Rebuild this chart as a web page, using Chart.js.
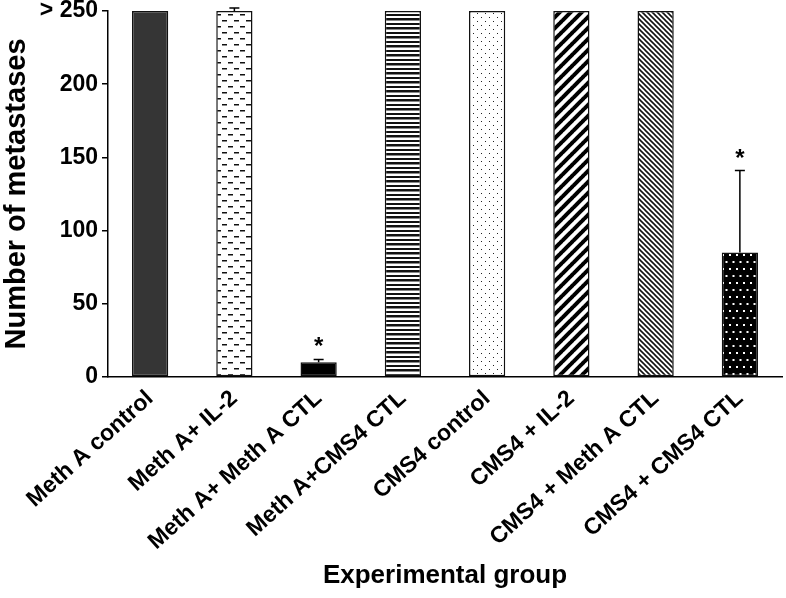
<!DOCTYPE html>
<html><head><meta charset="utf-8">
<script src="https://cdn.jsdelivr.net/npm/chart.js@4.4.1/dist/chart.umd.min.js"></script>
<style>html,body{margin:0;padding:0;background:#fff}#wrap{width:786px;height:598px;position:relative}</style>
</head><body><div id="wrap"><canvas id="c" width="786" height="598"></canvas></div>
<script>
const categories = ['Meth A control','Meth A+ IL-2','Meth A+ Meth A CTL','Meth A+CMS4 CTL','CMS4 control','CMS4 + IL-2','CMS4 + Meth A CTL','CMS4 + CMS4 CTL'];
const yTickValues = [0,50,100,150,200,250];
const yTickLabels = ['0','50','100','150','200','> 250'];
const metastases = [250,250,10,250,250,250,250,85];
const errorUpper = [0,2,2,0,0,0,0,56];
const significant = [false,false,true,false,false,false,false,true];
const yTitle = 'Number of metastases';
const xTitle = 'Experimental group';

const FONT = '"Liberation Sans", Arial, sans-serif';
const pctx = document.createElement('canvas').getContext('2d');
function tile(w,h,draw){const c=document.createElement('canvas');c.width=w;c.height=h;const x=c.getContext('2d');draw(x,w,h);return pctx.createPattern(c,'repeat');}
function diag(x,w,h,lw,dir,col){x.strokeStyle=col;x.lineWidth=lw;for(let k=-1;k<=1;k++){x.beginPath();if(dir>0){x.moveTo(k*w-1,h+1);x.lineTo(k*w+w+1,-1);}else{x.moveTo(k*w-1,-1);x.lineTo(k*w+w+1,h+1);}x.stroke();}}
const fills = [
  '#353535',
  tile(12,12,(x,w,h)=>{x.fillStyle='#fff';x.fillRect(0,0,w,h);x.fillStyle='#111';x.fillRect(0,2,5,1.5);x.fillRect(6,8,5,1.5);}),
  '#000',
  tile(4,9,(x,w,h)=>{x.fillStyle='#fff';x.fillRect(0,0,w,h);x.fillStyle='#111';x.fillRect(0,0,w,2.5);x.fillRect(0,5,w,2);}),
  tile(8,8,(x,w,h)=>{x.fillStyle='#fff';x.fillRect(0,0,w,h);x.fillStyle='#222';x.fillRect(1,1,1,1);x.fillRect(5,5,1,1);}),
  tile(11,11,(x,w,h)=>{x.fillStyle='#fff';x.fillRect(0,0,w,h);diag(x,w,h,4,1,'#000');}),
  tile(5,5,(x,w,h)=>{x.fillStyle='#fff';x.fillRect(0,0,w,h);diag(x,w,h,1.6,-1,'#111');}),
  tile(7,14,(x,w,h)=>{x.fillStyle='#000';x.fillRect(0,0,w,h);x.fillStyle='#fff';x.fillRect(1,2,2,2);x.fillRect(4.5,9,2,2);})
];

const errPlugin = {
  id:'errbars',
  afterDatasetsDraw(chart){
    const ctx=chart.ctx, meta=chart.getDatasetMeta(0), y=chart.scales.y;
    ctx.save();
    metastases.forEach((v,i)=>{
      const x=meta.data[i].x, e=errorUpper[i];
      const yTop=y.getPixelForValue(v+e);
      if(e>0){
        const y0=y.getPixelForValue(v);
        ctx.strokeStyle='#000';ctx.lineWidth=1.5;
        ctx.beginPath();ctx.moveTo(x,y0);ctx.lineTo(x,yTop);ctx.moveTo(x-5,yTop);ctx.lineTo(x+5,yTop);ctx.stroke();
      }
      if(significant[i]){
        ctx.fillStyle='#000';ctx.font='bold 24px '+FONT;ctx.textAlign='center';ctx.textBaseline='alphabetic';
        ctx.fillText('*',x,yTop-5);
      }
    });
    ctx.restore();
  }
};

new Chart(document.getElementById('c'),{
  type:'bar',
  data:{labels:categories,datasets:[{data:metastases,backgroundColor:fills,borderColor:'#111',borderWidth:1.5,borderSkipped:false,categoryPercentage:1,barPercentage:0.43}]},
  options:{
    responsive:false,animation:false,
    layout:{padding:{top:11,right:4,left:0,bottom:0}},
    plugins:{legend:{display:false},tooltip:{enabled:false}},
    scales:{
      x:{
        grid:{display:false},
        border:{display:true,color:'#000',width:1.5},
        ticks:{color:'#000',font:{family:FONT,size:23,weight:'bold'},minRotation:42,maxRotation:42,autoSkip:false,padding:0},
        title:{display:true,text:xTitle,color:'#000',font:{family:FONT,size:26,weight:'bold'},padding:{top:0,bottom:7}},
        afterFit(s){s.height=221;}
      },
      y:{
        min:0,max:250,
        afterBuildTicks(s){s.ticks=yTickValues.map(v=>({value:v}));},
        grid:{drawOnChartArea:false,color:'#000',tickLength:6,lineWidth:1.5},
        border:{display:true,color:'#000',width:1.5},
        ticks:{color:'#000',font:{family:FONT,size:23,weight:'bold',lineHeight:0.55},padding:4,callback:(v)=>yTickLabels[yTickValues.indexOf(v)]},
        title:{display:true,text:yTitle,color:'#000',font:{family:FONT,size:29,weight:'bold'},padding:{top:0,bottom:0}},
        afterFit(s){s.width=108;}
      }
    }
  },
  plugins:[errPlugin]
});
</script></body></html>
